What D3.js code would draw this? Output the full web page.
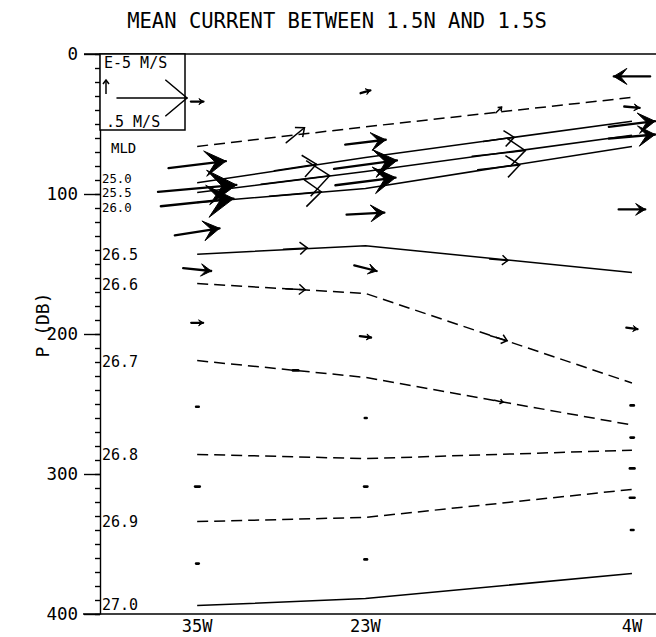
<!DOCTYPE html>
<html><head><meta charset="utf-8">
<script src="https://cdn.jsdelivr.net/npm/d3@7"></script>
<style>body{margin:0;background:#fff}</style>
</head><body>
<svg id="c" width="656" height="637"></svg>
<script>
// ---------------- data ----------------
const titleText = "MEAN CURRENT BETWEEN 1.5N AND 1.5S";
const yTitle = "P (DB)";
const stationNames = ["35W", "23W", "4W"];
const stationLon = [35, 23, 4];
const pressureTicks = [0, 100, 200, 300, 400];
const minorTicks = d3.range(0, 401, 10);

// isopycnals (and mixed-layer depth): pressure (dbar) at each station
const isoNames  = ["MLD", "25.0", "25.5", "26.0", "26.5", "26.6", "26.7", "26.8", "26.9", "27.0"];
const isoDashed = [true, false, false, false, false, true, true, true, true, false];
const isoP35W   = [66, 92, 99, 106, 143, 164, 219, 286, 334, 394];
const isoP23W   = [52, 74, 84, 96, 137, 171, 231, 289, 331, 389];
const isoP4W    = [31, 48, 58, 66, 156, 235, 265, 283, 311, 371];
// pressure where each label is written at the left axis
const isoLabelP = [67, 89, 99.3, 109.6, 143, 165, 220, 286, 334, 393];

// current vectors at the stations: u (m/s, eastward), w (1e-5 m/s, upward)
const obsLon = [35,35,35,35,35,35,35,35,35,35, 23,23,23,23,23,23,23,23,23,23, 4,4,4,4,4,4,4,4,4,4,4];
const obsP   = [34,79,96,106,127,154,192,252,309,364, 27,63,79,91,114,153,202,260,309,361, 16,38,50,59,111,196,251,274,296,317,340];
const obsU   = [0.09,0.41,0.56,0.52,0.32,0.20,0.085,0.015,0.03,0.015,
                0.07,0.29,0.45,0.43,0.27,0.16,0.08,0.01,0.02,0.015,
                -0.26,0.11,0.33,0.33,0.19,0.08,0.02,0.02,0.03,0.03,0.015];
const obsW   = [0,0.5,0.5,0.55,0.5,-0.2,0,0,0,0,
                0.2,0.35,0.6,0.55,0.15,-0.4,-0.1,0,0,0,
                0,-0.1,0.4,0.3,0,-0.1,0,0,0,0,0];

// along-isopycnal vectors between stations
const isoArrLon = [28,28,28,28,28,28,28, 13.5,13.5,13.5,13.5,13.5,13.5,13.5];
const isoArrP   = [58,81,90,100,139,168,226, 40,61,71,81,147,203,248];
const isoArrU   = [0.13,0.30,0.49,0.37,0.17,0.14,0.035, 0.04,0.22,0.38,0.30,0.13,0.12,0.06];
const isoArrW   = [1.07,0.46,0.62,0.32,0.1,-0.08,0, 0.4,0.3,0.4,0.35,-0.1,-0.35,-0.15];

// legend
const legendU = 0.5, legendW = 1;
const legendUText = ".5 M/S", legendWText = "E-5 M/S";

// ---------------- drawing ----------------
const svg = d3.select("#c");
const FONT = "DejaVu Sans Mono, monospace";
const x = d3.scaleLinear().domain([42, 2]).range([99, 660]);
const y = d3.scaleLinear().domain([0, 400]).range([54, 614]);
const uPx = d3.scaleLinear().domain([0, 0.5]).range([0, 70]);
const wPx = d3.scaleLinear().domain([0, 1]).range([0, 14]);
const X0 = 100;

svg.append("rect").attr("width", 656).attr("height", 637).attr("fill", "#fff");

// title
svg.append("text").attr("x", 337).attr("y", 28).attr("text-anchor", "middle")
  .attr("font-family", FONT).attr("font-size", 20.5).text(titleText);

// frame lines
svg.append("line").attr("x1", 84).attr("x2", 660).attr("y1", y(0)).attr("y2", y(0))
  .attr("stroke", "#000").attr("stroke-width", 1.6);
svg.append("line").attr("x1", 83).attr("x2", 660).attr("y1", y(400)).attr("y2", y(400))
  .attr("stroke", "#000").attr("stroke-width", 1.6);

// left axis: minor
const gMin = svg.append("g").attr("transform", `translate(${X0},0)`)
  .call(d3.axisLeft(y).tickValues(minorTicks).tickSize(5).tickSizeOuter(0).tickFormat(""));
gMin.selectAll("path,line").attr("stroke", "#000").attr("stroke-width", 1.4);
// major
const gMaj = svg.append("g").attr("transform", `translate(${X0},0)`)
  .call(d3.axisLeft(y).tickValues(pressureTicks).tickSize(16).tickPadding(6).tickSizeOuter(0));
gMaj.select(".domain").remove();
gMaj.selectAll("line").attr("stroke", "#000").attr("stroke-width", 1.4);
gMaj.selectAll("text").attr("font-family", FONT).attr("font-size", 17.5).attr("fill", "#000");

// y title
svg.append("text").attr("transform", "translate(43,325) rotate(-90)")
  .attr("text-anchor", "middle").attr("dy", "0.35em")
  .attr("font-family", FONT).attr("font-size", 18).text(yTitle);

// x labels
svg.selectAll("text.xl").data(stationNames).join("text").attr("class", "xl")
  .attr("x", (d, i) => x(stationLon[i])).attr("y", 632).attr("text-anchor", "middle")
  .attr("font-family", FONT).attr("font-size", 17).text(d => d);

// isopycnal lines
const line = d3.line().x(d => x(d[0])).y(d => y(d[1]));
const stacked = new Set(["25.0", "25.5", "26.0"]);
isoNames.forEach((name, i) => {
  const pts = [[stationLon[0], isoP35W[i]], [stationLon[1], isoP23W[i]], [stationLon[2], isoP4W[i]]];
  svg.append("path").attr("d", line(pts)).attr("fill", "none").attr("stroke", "#000")
    .attr("stroke-width", 1.5).attr("stroke-dasharray", isoDashed[i] ? "11,6" : null);
  svg.append("text").attr("x", name === "MLD" ? 111 : 102).attr("y", y(isoLabelP[i]))
    .attr("dy", "0.36em").attr("font-family", FONT)
    .attr("font-size", stacked.has(name) ? 12.3 : (name === "MLD" ? 14 : 15)).text(name);
});

// arrow helper
function arrow(g, cx, cy, dx, dy, filled, sw) {
  const L = Math.hypot(dx, dy);
  const x0 = cx - dx / 2, y0 = cy - dy / 2, x1 = cx + dx / 2, y1 = cy + dy / 2;
  if (L < 5) {
    g.append("line").attr("x1", x0).attr("y1", y0).attr("x2", x1 + 0.5).attr("y2", y1)
      .attr("stroke", "#000").attr("stroke-width", 2.6).attr("stroke-linecap", "round");
    return;
  }
  const ux = dx / L, uy = dy / L, nx = -uy, ny = ux;
  g.append("line").attr("x1", x0).attr("y1", y0).attr("x2", x1).attr("y2", y1)
    .attr("stroke", "#000").attr("stroke-width", sw).attr("stroke-linecap", "round");
  if (filled) {
    const h = Math.max(4.5, 0.36 * L), b = Math.max(3, 0.22 * L), nt = 0.5 * h;
    const pts = [[x1, y1], [x1 - h * ux + b * nx, y1 - h * uy + b * ny],
                 [x1 - nt * ux, y1 - nt * uy], [x1 - h * ux - b * nx, y1 - h * uy - b * ny]];
    g.append("path").attr("d", "M" + pts.map(p => p.join(",")).join("L") + "Z")
      .attr("fill", "#000").attr("stroke", "#000").attr("stroke-width", 1).attr("stroke-linejoin", "miter");
  } else {
    const h = Math.max(3, 0.31 * L), b = Math.max(2.5, 0.26 * L);
    const p1 = [x1 - h * ux + b * nx, y1 - h * uy + b * ny], p2 = [x1 - h * ux - b * nx, y1 - h * uy - b * ny];
    g.append("path").attr("d", `M${p1}L${x1},${y1}L${p2}`).attr("fill", "none")
      .attr("stroke", "#000").attr("stroke-width", sw);
  }
}

const gArr = svg.append("g");
obsLon.forEach((lon, i) => {
  arrow(gArr, x(lon), y(obsP[i]), (obsU[i] < 0 ? -1 : 1) * uPx(Math.abs(obsU[i])),
        -Math.sign(obsW[i]) * wPx(Math.abs(obsW[i])), true, 2.3);
});
isoArrLon.forEach((lon, i) => {
  arrow(gArr, x(lon), y(isoArrP[i]), uPx(isoArrU[i]),
        -Math.sign(isoArrW[i]) * wPx(Math.abs(isoArrW[i])), false, 1.5);
});

// legend box
const gL = svg.append("g");
gL.append("rect").attr("x", X0).attr("y", y(0)).attr("width", 85).attr("height", 76)
  .attr("fill", "#fff").attr("stroke", "#000").attr("stroke-width", 1.5);
gL.append("text").attr("x", 104).attr("y", 68).attr("font-family", FONT).attr("font-size", 15).text(legendWText);
gL.append("text").attr("x", 106).attr("y", 127).attr("font-family", FONT).attr("font-size", 15).text(legendUText);
// vertical scale arrow
const wl = wPx(legendW), ax = 106, ay0 = 94;
gL.append("line").attr("x1", ax).attr("x2", ax).attr("y1", ay0).attr("y2", ay0 - wl)
  .attr("stroke", "#000").attr("stroke-width", 1.5);
gL.append("path").attr("d", `M${ax - 3},${ay0 - wl + 4}L${ax},${ay0 - wl}L${ax + 3},${ay0 - wl + 4}`)
  .attr("fill", "none").attr("stroke", "#000").attr("stroke-width", 1.5);
// horizontal scale arrow
const ul = uPx(legendU);
arrow(gL, 117 + ul / 2, 98, ul, 0, false, 1.5);
</script>
</body></html>
